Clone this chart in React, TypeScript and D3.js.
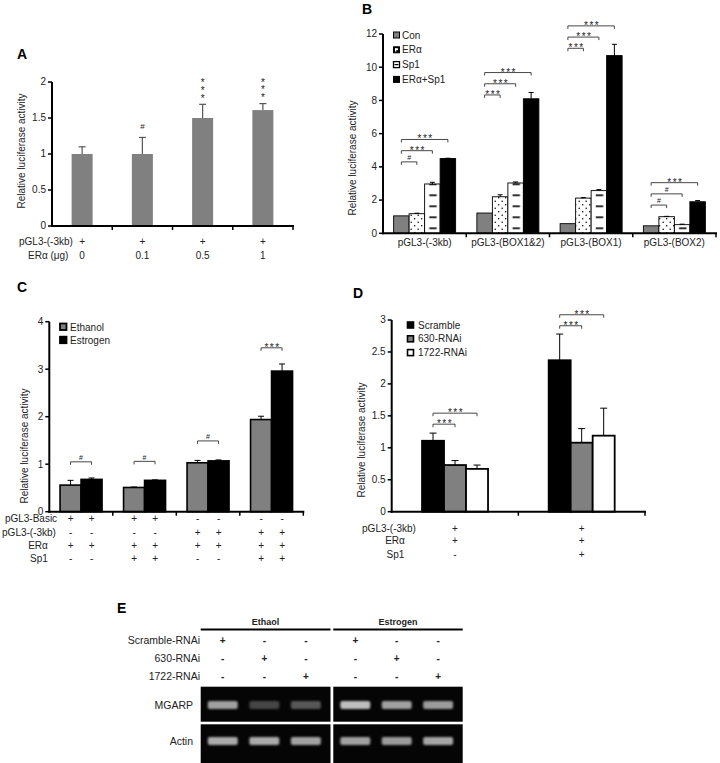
import React from 'react';
import * as d3 from 'd3';

const FONT = "'Liberation Sans', Arial, Helvetica, sans-serif";

// ---------- Panel A ----------
const aDoses = ['0', '0.1', '0.5', '1'];
const aPgl3 = ['+', '+', '+', '+'];
const aValues = [1.0, 1.0, 1.5, 1.61];
const aErrors = [0.1, 0.23, 0.19, 0.09];
const aSig = ['', '#', '***', '***'];
const aTicks = [0, 0.5, 1, 1.5, 2];

// ---------- Panel B ----------
const bGroups = ['pGL3-(-3kb)', 'pGL3-(BOX1&2)', 'pGL3-(BOX1)', 'pGL3-(BOX2)'];
const bSeries = ['Con', 'ERα', 'Sp1', 'ERα+Sp1'];
const bCon = [1.05, 1.22, 0.58, 0.45];
const bEra = [1.18, 2.2, 2.12, 1.0];
const bSp1 = [2.97, 3.03, 2.57, 0.52];
const bBoth = [4.5, 8.1, 10.7, 1.9];
const bConErr = [0, 0, 0, 0];
const bEraErr = [0.03, 0.12, 0.03, 0.02];
const bSp1Err = [0.1, 0.06, 0.06, 0.03];
const bBothErr = [0.02, 0.38, 0.68, 0.07];
const bSig = [
  ['#', '***', '***'],
  ['***', '***', '***'],
  ['***', '***', '***'],
  ['#', '#', '***'],
];
const bBracketBase = [4.3, 8.33, 11.14, 1.7];
const bTicks = [0, 2, 4, 6, 8, 10, 12];

// ---------- Panel C ----------
const cSeries = ['Ethanol', 'Estrogen'];
const cEthanol = [0.56, 0.51, 1.03, 1.94];
const cEthanolErr = [0.1, 0.01, 0.05, 0.07];
const cEstrogen = [0.68, 0.66, 1.07, 2.96];
const cEstrogenErr = [0.03, 0.01, 0.02, 0.15];
const cSig = ['#', '#', '#', '***'];
const cBracket = [1.05, 1.06, 1.49, 3.45];
const cTicks = [0, 1, 2, 3, 4];
const cRowLabels = ['pGL3-Basic', 'pGL3-(-3kb)', 'ERα', 'Sp1'];
const cRowSigns = [
  ['+', '+', '+', '+', '-', '-', '-', '-'],
  ['-', '-', '-', '-', '+', '+', '+', '+'],
  ['+', '+', '+', '+', '+', '+', '+', '+'],
  ['-', '-', '+', '+', '-', '-', '+', '+'],
];

// ---------- Panel D ----------
const dSeries = ['Scramble', '630-RNAi', '1722-RNAi'];
const dScramble = [1.11, 2.37];
const dScrambleErr = [0.12, 0.41];
const d630 = [0.73, 1.08];
const d630Err = [0.07, 0.22];
const d1722 = [0.67, 1.19];
const d1722Err = [0.06, 0.43];
const dSig = [['***', '***'], ['***', '***']];
const dBracketBase = [1.37, 2.91];
const dTicks = [0, 0.5, 1, 1.5, 2, 2.5, 3];
const dRowLabels = ['pGL3-(-3kb)', 'ERα', 'Sp1'];
const dRowSigns = [['+', '+'], ['+', '+'], ['-', '+']];

// ---------- Panel E ----------
const eTreatments = ['Ethaol', 'Estrogen'];
const eRows = ['Scramble-RNAi', '630-RNAi', '1722-RNAi'];
const eSigns = [
  ['+', '-', '-', '+', '-', '-'],
  ['-', '+', '-', '-', '+', '-'],
  ['-', '-', '+', '-', '-', '+'],
];
const eGenes = ['MGARP', 'Actin'];
const eMgarp = [0.62, 0.26, 0.33, 0.74, 0.62, 0.6];
const eActin = [0.66, 0.66, 0.63, 0.62, 0.6, 0.64];

const fmt = (v: number) => String(v);

function YAxis({ y, ticks, x, label, labelX, labelY }: any) {
  const [r0, r1] = y.range();
  return (
    <g>
      <line x1={x} x2={x} y1={r0 + 1} y2={r1} stroke="#000" strokeWidth={2} />
      {ticks.map((t: number) => (
        <g key={t}>
          <line x1={x - 4} x2={x} y1={y(t)} y2={y(t)} stroke="#000" strokeWidth={1.5} />
          <text x={x - 6} y={y(t) + 3.4} textAnchor="end" fontSize={10} fill="#222">
            {fmt(t)}
          </text>
        </g>
      ))}
      <text
        transform={`translate(${labelX},${labelY}) rotate(-90)`}
        textAnchor="middle"
        fontSize={10}
        fill="#222"
      >
        {label}
      </text>
    </g>
  );
}

function XAxis({ xb, y0 }: any) {
  const [a, b] = xb.range();
  const bounds = xb.domain().map((d: string) => xb(d) + xb.bandwidth());
  return (
    <g>
      <line x1={a - 1} x2={b + 1} y1={y0} y2={y0} stroke="#000" strokeWidth={2} />
      {bounds.map((bx: number, i: number) => (
        <line key={i} x1={bx} x2={bx} y1={y0} y2={y0 + 4} stroke="#000" strokeWidth={1.5} />
      ))}
    </g>
  );
}

function ErrBar({ cx, yTop, yBar, w, color = '#000', sw = 1 }: any) {
  return (
    <g stroke={color} strokeWidth={sw}>
      <line x1={cx} x2={cx} y1={yBar} y2={yTop} />
      <line x1={cx - w / 2} x2={cx + w / 2} y1={yTop} y2={yTop} />
    </g>
  );
}

function Bracket({ x1, x2, y, label }: any) {
  const stars = label === '***';
  return (
    <g>
      <path d={`M${x1},${y + 3}V${y}H${x2}V${y + 3}`} fill="none" stroke="#333" strokeWidth={0.9} />
      {stars ? (
        <text x={(x1 + x2) / 2 + 1} y={y + 3} textAnchor="middle" fontSize={10} letterSpacing={1.5} fill="#222">
          {label}
        </text>
      ) : (
        <text x={(x1 + x2) / 2} y={y - 1.6} textAnchor="middle" fontSize={7} fill="#222">
          {label}
        </text>
      )}
    </g>
  );
}

function PanelA() {
  const y = d3.scaleLinear().domain([0, 2]).range([226, 82]);
  const xb = d3.scaleBand<string>().domain(aDoses).range([52, 293]);
  const bw = 21;
  return (
    <g>
      <text x={17} y={59} fontSize={14} fontWeight="bold">A</text>
      {aDoses.map((d, i) => {
        const cx = xb(d)! + xb.bandwidth() / 2;
        const top = aValues[i] + aErrors[i];
        return (
          <g key={d}>
            <rect x={cx - bw / 2} y={y(aValues[i])} width={bw} height={y(0) - y(aValues[i])} fill="#808080" />
            <ErrBar cx={cx} yTop={y(top)} yBar={y(aValues[i])} w={7} color="#555" sw={1.2} />
            {aSig[i] === '#' && (
              <text x={cx} y={y(top) - 8} textAnchor="middle" fontSize={8} fill="#222">#</text>
            )}
            {aSig[i] === '***' && (
              <text
                x={cx}
                y={y(top) - 27}
                fontSize={10}
                fill="#222"
                letterSpacing={-3.2}
                style={{ writingMode: 'vertical-rl', textOrientation: 'upright' } as any}
              >
                {aSig[i]}
              </text>
            )}
            <text x={cx} y={245} textAnchor="middle" fontSize={10} fill="#222">{aPgl3[i]}</text>
            <text x={cx} y={259} textAnchor="middle" fontSize={10} fill="#222">{d}</text>
          </g>
        );
      })}
      <YAxis y={y} ticks={aTicks} x={52} label="Relative luciferase activity" labelX={25} labelY={151} />
      <XAxis xb={xb} y0={226} />
      <text x={19} y={245} fontSize={10} fill="#222">pGL3-(-3kb)</text>
      <text x={28} y={259} fontSize={10} fill="#222">ERα (μg)</text>
    </g>
  );
}

function PanelB() {
  const y = d3.scaleLinear().domain([0, 12]).range([233.3, 34]);
  const xb = d3.scaleBand<string>().domain(bGroups).range([383, 716]);
  const xs = d3.scaleBand<string>().domain(bSeries).range([0, 62]);
  const vals = [bCon, bEra, bSp1, bBoth];
  const errs = [bConErr, bEraErr, bSp1Err, bBothErr];
  const fills = ['#808080', 'url(#dotsB)', '', '#000'];
  return (
    <g>
      <text x={362} y={14} fontSize={14} fontWeight="bold">B</text>
      <defs>
        <pattern id="dotsB" width={7} height={7} patternUnits="userSpaceOnUse">
          <rect width={7} height={7} fill="#fff" />
          <circle cx={1.7} cy={1.7} r={0.75} fill="#000" />
          <circle cx={5.2} cy={5.2} r={0.75} fill="#000" />
        </pattern>
        {bGroups.map((g, gi) => {
          const x0 = xb(g)! + (xb.bandwidth() - 62) / 2 + xs('Sp1')!;
          return (
            <pattern key={gi} id={`dashB${gi}`} x={x0} y={233.3} width={xs.bandwidth()} height={11} patternUnits="userSpaceOnUse">
              <rect width={xs.bandwidth()} height={11} fill="#fff" />
              <line x1={xs.bandwidth() * 0.3} x2={xs.bandwidth() * 0.78} y1={6} y2={6} stroke="#000" strokeWidth={1.6} />
            </pattern>
          );
        })}
      </defs>
      {bGroups.map((g, gi) => {
        const gx = xb(g)! + (xb.bandwidth() - 62) / 2;
        const centers = bSeries.map((s) => gx + xs(s)! + xs.bandwidth() / 2);
        return (
          <g key={g}>
            {bSeries.map((s, si) => {
              const v = vals[si][gi];
              const fill = si === 2 ? `url(#dashB${gi})` : fills[si];
              return (
                <g key={s}>
                  <rect x={gx + xs(s)!} y={y(v)} width={xs.bandwidth()} height={y(0) - y(v)} fill={fill} stroke="#000" strokeWidth={0.9} />
                  {errs[si][gi] > 0 && (
                    <ErrBar cx={centers[si]} yTop={y(v + errs[si][gi])} yBar={y(v)} w={5} sw={1} />
                  )}
                </g>
              );
            })}
            {bSig[gi].map((lab, k) => (
              <Bracket key={k} x1={centers[0]} x2={centers[k + 1]} y={y(bBracketBase[gi]) - k * 11.2} label={lab} />
            ))}
            <text x={xb(g)! + xb.bandwidth() / 2} y={245.5} textAnchor="middle" fontSize={10} fill="#222">{g}</text>
          </g>
        );
      })}
      <YAxis y={y} ticks={bTicks} x={383} label="Relative luciferase activity" labelX={356} labelY={158} />
      <XAxis xb={xb} y0={233.3} />
      {/* legend */}
      {bSeries.map((s, i) => {
        const ly = 35 + i * 14.8;
        return (
          <g key={s}>
            {i === 0 && <rect x={393.5} y={ly - 3} width={6} height={6} fill="#808080" stroke="#000" strokeWidth={1} />}
            {i === 1 && (
              <g>
                <rect x={393.5} y={ly - 3} width={6} height={6} fill="#000" stroke="#000" strokeWidth={1} />
                <rect x={395} y={ly - 1.5} width={3} height={1.8} fill="#fff" />
                <rect x={395} y={ly - 1.5} width={1.4} height={3.2} fill="#fff" />
              </g>
            )}
            {i === 2 && (
              <g>
                <rect x={393.5} y={ly - 3} width={6} height={6} fill="#fff" stroke="#000" strokeWidth={1.3} />
                <line x1={394.5} x2={398.5} y1={ly} y2={ly} stroke="#000" strokeWidth={1.2} />
              </g>
            )}
            {i === 3 && <rect x={393.5} y={ly - 3} width={6} height={6} fill="#000" stroke="#000" strokeWidth={1} />}
            <text x={402} y={ly + 3.6} fontSize={10} fill="#222">{s}</text>
          </g>
        );
      })}
    </g>
  );
}

function PanelC() {
  const y = d3.scaleLinear().domain([0, 4]).range([511.7, 321.7]);
  const groups = ['g1', 'g2', 'g3', 'g4'];
  const xb = d3.scaleBand<string>().domain(groups).range([49.3, 303.3]);
  const bw = 21;
  const vals = [cEthanol, cEstrogen];
  const errs = [cEthanolErr, cEstrogenErr];
  const fills = ['#808080', '#000'];
  const centersAll: number[] = [];
  groups.forEach((g) => {
    const c = xb(g)! + xb.bandwidth() / 2;
    centersAll.push(c - bw / 2, c + bw / 2);
  });
  const rowY = [518.8, 532, 545, 558];
  const rowX = [31, 29, 38, 39];
  return (
    <g>
      <text x={17} y={292} fontSize={14} fontWeight="bold">C</text>
      {groups.map((g, gi) => {
        const c = xb(g)! + xb.bandwidth() / 2;
        const cs = [c - bw / 2, c + bw / 2];
        return (
          <g key={g}>
            {cSeries.map((s, si) => {
              const v = vals[si][gi];
              return (
                <g key={s}>
                  <rect x={cs[si] - bw / 2} y={y(v)} width={bw} height={y(0) - y(v)} fill={fills[si]} stroke="#000" strokeWidth={1.6} />
                  <ErrBar cx={cs[si]} yTop={y(v + errs[si][gi])} yBar={y(v)} w={6} sw={1} />
                </g>
              );
            })}
            <Bracket x1={cs[0]} x2={cs[1]} y={y(cBracket[gi])} label={cSig[gi]} />
          </g>
        );
      })}
      <YAxis y={y} ticks={cTicks} x={49.3} label="Relative luciferase activity" labelX={28} labelY={446} />
      <XAxis xb={xb} y0={511.7} />
      {cRowLabels.map((lab, ri) => (
        <g key={lab}>
          <text x={rowX[ri]} y={rowY[ri] + 3.5} textAnchor="middle" fontSize={10} fill="#222">{lab}</text>
          {cRowSigns[ri].map((s, k) => (
            <text key={k} x={centersAll[k]} y={rowY[ri] + 3.5} textAnchor="middle" fontSize={10} fill="#222">{s}</text>
          ))}
        </g>
      ))}
      {/* legend */}
      <rect x={60} y={323.5} width={6.5} height={6.5} fill="#808080" stroke="#000" strokeWidth={1.8} />
      <text x={70} y={330.5} fontSize={10} fill="#222">{cSeries[0]}</text>
      <rect x={60} y={336.7} width={6.5} height={6.5} fill="#000" stroke="#000" strokeWidth={1.8} />
      <text x={70} y={343.7} fontSize={10} fill="#222">{cSeries[1]}</text>
    </g>
  );
}

function PanelD() {
  const y = d3.scaleLinear().domain([0, 3]).range([511.7, 320]);
  const groups = ['g1', 'g2'];
  const xb = d3.scaleBand<string>().domain(groups).range([391.7, 645]);
  const bw = 22;
  const vals = [dScramble, d630, d1722];
  const errs = [dScrambleErr, d630Err, d1722Err];
  const fills = ['#000', '#808080', '#fff'];
  const rowY = [528.3, 540.5, 554];
  const rowX = [389, 395, 395.5];
  return (
    <g>
      <text x={353} y={298} fontSize={14} fontWeight="bold">D</text>
      {groups.map((g, gi) => {
        const c = xb(g)! + xb.bandwidth() / 2;
        const cs = [c - bw, c, c + bw];
        return (
          <g key={g}>
            {dSeries.map((s, si) => {
              const v = vals[si][gi];
              return (
                <g key={s}>
                  <rect x={cs[si] - bw / 2} y={y(v)} width={bw} height={y(0) - y(v)} fill={fills[si]} stroke="#000" strokeWidth={1.8} />
                  <ErrBar cx={cs[si]} yTop={y(v + errs[si][gi])} yBar={y(v)} w={7} sw={1} />
                </g>
              );
            })}
            {dSig[gi].map((lab, k) => (
              <Bracket key={k} x1={cs[0]} x2={cs[k + 1]} y={y(dBracketBase[gi]) - k * 11} label={lab} />
            ))}
            {dRowSigns.map((row, ri) => (
              <text key={ri} x={c} y={rowY[ri] + 3.7} textAnchor="middle" fontSize={10} fill="#222">{row[gi]}</text>
            ))}
          </g>
        );
      })}
      <YAxis y={y} ticks={dTicks} x={391.7} label="Relative luciferase activity" labelX={365} labelY={440} />
      <XAxis xb={xb} y0={511.7} />
      {dRowLabels.map((lab, ri) => (
        <text key={lab} x={rowX[ri]} y={rowY[ri] + 3.7} textAnchor="middle" fontSize={10} fill="#222">{lab}</text>
      ))}
      {/* legend */}
      {dSeries.map((s, i) => {
        const ly = 325 + i * 13.8;
        return (
          <g key={s}>
            <rect x={407.5} y={ly - 3} width={6} height={6} fill={fills[i]} stroke="#000" strokeWidth={1.6} />
            <text x={418} y={ly + 3.6} fontSize={10} fill="#222">{s}</text>
          </g>
        );
      })}
    </g>
  );
}

function PanelE() {
  const lanes = d3.range(6);
  const boxes = [
    [200.7, 330.5],
    [333.3, 462.7],
  ];
  // lane x positions follow two gel boxes, three lanes each
  const laneCx = (i: number) => {
    const [a, b] = boxes[i < 3 ? 0 : 1];
    const k = i % 3;
    return a + (b - a) * (0.17 + k * 0.32);
  };
  const rowY = [640, 658.3, 676.7];
  const gelRows = [
    { y0: 686.7, y1: 721.7, vals: eMgarp, cy: 705 },
    { y0: 724.3, y1: 763, vals: eActin, cy: 741 },
  ];
  return (
    <g>
      <defs>
        <filter id="blurE" x="-30%" y="-80%" width="160%" height="260%">
          <feGaussianBlur stdDeviation={1.3} />
        </filter>
      </defs>
      <text x={117} y={613} fontSize={14} fontWeight="bold">E</text>
      {eTreatments.map((t, i) => (
        <g key={t}>
          <text x={(boxes[i][0] + boxes[i][1]) / 2} y={625} textAnchor="middle" fontSize={9} fontWeight="bold" fill="#222">{t}</text>
          <line x1={boxes[i][0]} x2={boxes[i][1]} y1={629.5} y2={629.5} stroke="#000" strokeWidth={2} />
        </g>
      ))}
      {eRows.map((r, ri) => (
        <g key={r}>
          <text x={200} y={rowY[ri] + 3.7} textAnchor="end" fontSize={10.5} fill="#222">{r}</text>
          {lanes.map((l) => (
            <text key={l} x={laneCx(l)} y={rowY[ri] + 3.7} textAnchor="middle" fontSize={10} fontWeight="bold" fill="#222">
              {eSigns[ri][l]}
            </text>
          ))}
        </g>
      ))}
      {gelRows.map((gr, gi) => (
        <g key={gi}>
          <text x={193} y={gr.cy + 3.7} textAnchor="end" fontSize={10.5} fill="#222">{eGenes[gi]}</text>
          {boxes.map(([a, b], bi) => (
            <rect key={bi} x={a} y={gr.y0} width={b - a} height={gr.y1 - gr.y0} fill="#050505" />
          ))}
          {lanes.map((l) => (
            <g key={l} filter="url(#blurE)">
              <rect x={laneCx(l) - 15} y={gr.cy - 4} width={30} height={8} rx={2} fill="#fff" opacity={gr.vals[l]} />
            </g>
          ))}
        </g>
      ))}
    </g>
  );
}

export default function App() {
  return (
    <div style={{ position: 'absolute', left: 0, top: 0 }}>
      <svg width={720} height={763} style={{ display: 'block', fontFamily: FONT }}>
        <rect width={720} height={763} fill="#fff" />
        <PanelA />
        <PanelB />
        <PanelC />
        <PanelD />
        <PanelE />
      </svg>
    </div>
  );
}
